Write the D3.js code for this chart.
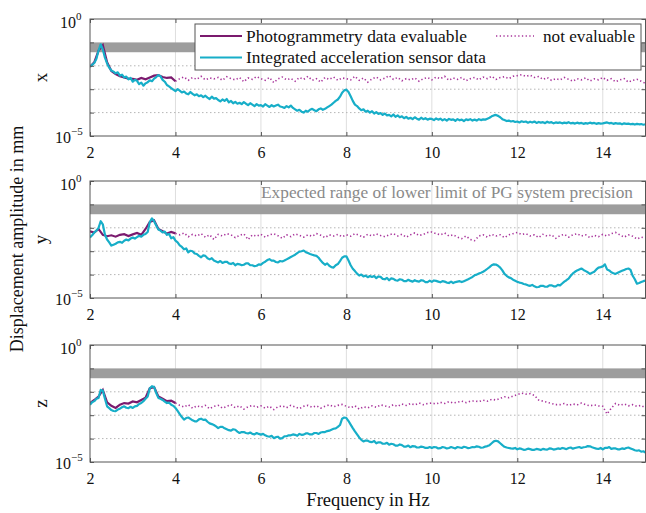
<!DOCTYPE html>
<html>
<head>
<meta charset="utf-8">
<script src="https://cdn.jsdelivr.net/npm/d3@7/dist/d3.min.js"></script>
<style>
  body { margin: 0; background: #fff; }
  text { font-family: "Liberation Serif", "Times New Roman", serif; }
</style>
</head>
<body>
<svg id="chart" width="646" height="513"></svg>
<script>
'use strict';

// values are log10 of displacement amplitude in mm
// acceleration data sampled every 0.05 Hz, photogrammetry every 0.1 Hz
const freqAcc = d3.range(40, 301).map(d => d / 20);   // 2.00 .. 15.00
const freqPG  = d3.range(20, 41).map(d => d / 10);    // 2.0 .. 4.0 (evaluable)
const freqNE  = d3.range(40, 151).map(d => d / 10);   // 4.0 .. 15.0 (not evaluable)

const accX = [
  -2.04,-1.96,-1.88,-1.70,-1.35,-1.08,-1.30,-1.65,-1.90,-2.08,-2.20,-2.25,-2.32,-2.28,-2.42,-2.38,-2.50,-2.46,-2.58,-2.52,
  -2.68,-2.60,-2.64,-2.78,-2.72,-2.85,-2.75,-2.70,-2.62,-2.66,-2.55,-2.48,-2.40,-2.45,-2.60,-2.68,-2.82,-2.88,-2.95,-3.02,
  -3.08,-3.00,-3.06,-3.14,-3.10,-3.18,-3.22,-3.12,-3.20,-3.26,-3.22,-3.30,-3.26,-3.34,-3.28,-3.36,-3.42,-3.32,-3.40,-3.38,
  -3.46,-3.52,-3.44,-3.50,-3.42,-3.56,-3.50,-3.60,-3.54,-3.62,-3.58,-3.64,-3.55,-3.62,-3.68,-3.60,-3.66,-3.72,-3.64,-3.70,
  -3.68,-3.74,-3.64,-3.70,-3.76,-3.68,-3.74,-3.70,-3.66,-3.74,-3.76,-3.80,-3.72,-3.78,-3.70,-3.80,-3.86,-3.92,-3.88,-3.96,
  -4.00,-3.92,-3.96,-3.88,-3.84,-3.90,-3.94,-3.86,-3.82,-3.88,-3.84,-3.78,-3.72,-3.66,-3.58,-3.50,-3.44,-3.32,-3.15,-3.05,
  -3.02,-3.12,-3.30,-3.50,-3.66,-3.72,-3.82,-3.90,-3.86,-3.96,-3.92,-4.00,-3.94,-4.04,-3.98,-4.06,-4.02,-4.10,-4.04,-4.12,
  -4.10,-4.16,-4.08,-4.18,-4.12,-4.20,-4.16,-4.24,-4.18,-4.26,-4.22,-4.28,-4.20,-4.26,-4.30,-4.22,-4.28,-4.24,-4.30,-4.26,
  -4.27,-4.32,-4.25,-4.30,-4.26,-4.33,-4.28,-4.34,-4.27,-4.31,-4.29,-4.35,-4.28,-4.33,-4.30,-4.36,-4.29,-4.32,-4.28,-4.34,
  -4.30,-4.34,-4.28,-4.32,-4.29,-4.30,-4.26,-4.22,-4.16,-4.12,-4.10,-4.14,-4.20,-4.28,-4.32,-4.36,-4.34,-4.38,-4.36,-4.40,
  -4.38,-4.42,-4.37,-4.40,-4.38,-4.43,-4.39,-4.42,-4.38,-4.44,-4.40,-4.43,-4.41,-4.45,-4.39,-4.43,-4.41,-4.46,-4.42,-4.44,
  -4.42,-4.46,-4.43,-4.45,-4.41,-4.46,-4.44,-4.47,-4.43,-4.46,-4.44,-4.48,-4.45,-4.47,-4.43,-4.46,-4.44,-4.48,-4.45,-4.47,
  -4.46,-4.44,-4.42,-4.46,-4.44,-4.48,-4.45,-4.47,-4.46,-4.50,-4.46,-4.48,-4.47,-4.50,-4.48,-4.51,-4.48,-4.50,-4.49,-4.52,
  -4.50
];
const pgX = [
  -2.04,-1.85,-1.35,-1.12,-1.85,-2.22,-2.35,-2.45,-2.50,-2.55,
  -2.56,-2.60,-2.52,-2.58,-2.50,-2.42,-2.40,-2.48,-2.52,-2.50,
  -2.66
];
const neX = [
  -2.66,-2.55,-2.48,-2.62,-2.50,-2.58,-2.45,-2.60,-2.52,-2.56,
  -2.50,-2.62,-2.47,-2.55,-2.60,-2.50,-2.68,-2.52,-2.58,-2.46,
  -2.55,-2.62,-2.50,-2.72,-2.56,-2.48,-2.60,-2.54,-2.66,-2.50,
  -2.58,-2.45,-2.62,-2.55,-2.70,-2.50,-2.58,-2.48,-2.62,-2.52,
  -2.55,-2.60,-2.45,-2.62,-2.52,-2.70,-2.56,-2.48,-2.60,-2.53,
  -2.42,-2.58,-2.50,-2.64,-2.55,-2.60,-2.52,-2.66,-2.55,-2.50,
  -2.60,-2.48,-2.55,-2.45,-2.62,-2.52,-2.58,-2.50,-2.64,-2.55,
  -2.50,-2.60,-2.48,-2.55,-2.45,-2.58,-2.50,-2.47,-2.55,-2.45,
  -2.42,-2.38,-2.45,-2.40,-2.50,-2.46,-2.58,-2.50,-2.62,-2.55,
  -2.60,-2.50,-2.58,-2.66,-2.55,-2.60,-2.52,-2.65,-2.56,-2.60,
  -2.50,-2.62,-2.55,-2.68,-2.60,-2.55,-2.70,-2.62,-2.58,-2.66,
  -2.75
];

const accY = [
  -2.41,-2.32,-2.20,-2.12,-2.00,-1.72,-1.85,-2.30,-2.50,-2.62,-2.76,-2.72,-2.68,-2.62,-2.60,-2.64,-2.55,-2.50,-2.54,-2.46,
  -2.42,-2.46,-2.40,-2.34,-2.38,-2.30,-2.26,-2.18,-1.75,-1.60,-1.72,-1.90,-2.07,-2.12,-2.20,-2.16,-2.30,-2.26,-2.45,-2.40,
  -2.55,-2.62,-2.75,-2.82,-2.92,-2.88,-3.05,-2.98,-3.00,-3.10,-3.12,-3.20,-3.26,-3.18,-3.20,-3.30,-3.35,-3.30,-3.40,-3.44,
  -3.48,-3.42,-3.50,-3.46,-3.45,-3.52,-3.55,-3.50,-3.60,-3.54,-3.56,-3.60,-3.58,-3.52,-3.52,-3.60,-3.60,-3.64,-3.62,-3.56,
  -3.58,-3.50,-3.45,-3.38,-3.34,-3.40,-3.40,-3.46,-3.48,-3.42,-3.44,-3.40,-3.35,-3.30,-3.25,-3.20,-3.15,-3.08,-3.02,-3.00,
  -2.97,-3.04,-3.08,-3.12,-3.15,-3.18,-3.20,-3.28,-3.40,-3.50,-3.58,-3.52,-3.62,-3.68,-3.70,-3.60,-3.55,-3.42,-3.28,-3.22,
  -3.22,-3.40,-3.60,-3.75,-3.85,-3.96,-4.04,-4.00,-4.08,-4.04,-4.11,-4.06,-4.10,-4.06,-4.15,-4.08,-4.10,-4.18,-4.20,-4.14,
  -4.24,-4.16,-4.18,-4.24,-4.26,-4.20,-4.22,-4.28,-4.28,-4.22,-4.27,-4.30,-4.24,-4.28,-4.30,-4.24,-4.26,-4.32,-4.32,-4.26,
  -4.31,-4.25,-4.27,-4.30,-4.33,-4.28,-4.30,-4.34,-4.36,-4.30,-4.36,-4.32,-4.30,-4.28,-4.32,-4.28,-4.24,-4.20,-4.15,-4.10,
  -4.03,-4.00,-3.95,-3.92,-3.88,-3.82,-3.75,-3.68,-3.60,-3.56,-3.57,-3.62,-3.70,-3.82,-3.97,-4.05,-4.12,-4.15,-4.22,-4.26,
  -4.31,-4.34,-4.36,-4.40,-4.42,-4.46,-4.48,-4.44,-4.50,-4.54,-4.53,-4.48,-4.48,-4.52,-4.52,-4.46,-4.46,-4.50,-4.50,-4.44,
  -4.46,-4.38,-4.30,-4.24,-4.17,-4.05,-3.95,-3.88,-3.82,-3.78,-3.74,-3.80,-3.85,-3.90,-3.97,-3.92,-3.88,-3.78,-3.70,-3.68,
  -3.65,-3.56,-3.78,-3.82,-3.90,-3.94,-3.97,-3.92,-3.88,-3.84,-3.80,-3.76,-3.74,-3.80,-4.05,-4.20,-4.39,-4.36,-4.32,-4.28,
  -4.25
];
const pgY = [
  -2.15,-2.20,-2.05,-2.30,-2.36,-2.32,-2.38,-2.30,-2.27,-2.35,
  -2.28,-2.22,-2.30,-2.05,-1.75,-1.68,-2.05,-2.15,-2.25,-2.18,
  -2.24
];
const neY = [
  -2.24,-2.30,-2.22,-2.38,-2.28,-2.35,-2.25,-2.40,-2.30,-2.50,
  -2.28,-2.35,-2.25,-2.30,-2.42,-2.32,-2.26,-2.50,-2.30,-2.36,
  -2.28,-2.40,-2.30,-2.25,-2.34,-2.45,-2.30,-2.38,-2.26,-2.32,
  -2.40,-2.30,-2.36,-2.25,-2.32,-2.42,-2.30,-2.35,-2.28,-2.38,
  -2.30,-2.36,-2.25,-2.32,-2.40,-2.28,-2.35,-2.26,-2.33,-2.38,
  -2.30,-2.25,-2.35,-2.28,-2.40,-2.30,-2.22,-2.33,-2.28,-2.20,
  -2.18,-2.25,-2.30,-2.22,-2.35,-2.30,-2.40,-2.46,-2.35,-2.50,
  -2.55,-2.35,-2.30,-2.40,-2.28,-2.35,-2.30,-2.42,-2.30,-2.25,
  -2.20,-2.28,-2.25,-2.35,-2.30,-2.42,-2.28,-2.36,-2.30,-2.45,
  -2.33,-2.28,-2.40,-2.30,-2.25,-2.35,-2.30,-2.42,-2.32,-2.38,
  -2.28,-2.35,-2.25,-2.20,-2.30,-2.40,-2.30,-2.36,-2.48,-2.40,
  -2.45
];

const accZ = [
  -2.55,-2.45,-2.40,-2.30,-2.26,-1.92,-1.95,-2.30,-2.62,-2.70,-2.78,-2.82,-2.83,-2.76,-2.72,-2.66,-2.62,-2.68,-2.70,-2.64,
  -2.69,-2.62,-2.60,-2.52,-2.48,-2.40,-2.30,-2.20,-1.85,-1.76,-1.80,-2.05,-2.26,-2.30,-2.35,-2.42,-2.48,-2.46,-2.55,-2.60,
  -2.69,-2.82,-2.95,-3.08,-3.19,-3.12,-3.10,-3.16,-3.22,-3.26,-3.26,-3.18,-3.15,-3.20,-3.19,-3.28,-3.35,-3.38,-3.42,-3.48,
  -3.55,-3.50,-3.50,-3.56,-3.60,-3.64,-3.66,-3.60,-3.62,-3.70,-3.76,-3.72,-3.72,-3.76,-3.78,-3.74,-3.80,-3.82,-3.76,-3.80,
  -3.83,-3.80,-3.86,-3.90,-3.92,-3.88,-3.98,-3.94,-3.92,-4.00,-3.98,-3.90,-3.90,-3.86,-3.86,-3.82,-3.84,-3.88,-3.80,-3.84,
  -3.83,-3.78,-3.78,-3.82,-3.82,-3.76,-3.76,-3.80,-3.74,-3.72,-3.72,-3.68,-3.66,-3.62,-3.58,-3.56,-3.50,-3.42,-3.15,-3.10,
  -3.12,-3.25,-3.40,-3.55,-3.69,-3.82,-3.95,-4.05,-4.12,-4.08,-4.09,-4.14,-4.15,-4.10,-4.20,-4.16,-4.16,-4.22,-4.22,-4.18,
  -4.26,-4.22,-4.24,-4.30,-4.30,-4.25,-4.28,-4.34,-4.34,-4.30,-4.37,-4.32,-4.33,-4.38,-4.38,-4.34,-4.36,-4.40,-4.40,-4.36,
  -4.40,-4.36,-4.37,-4.42,-4.41,-4.36,-4.38,-4.42,-4.40,-4.36,-4.39,-4.42,-4.36,-4.38,-4.40,-4.35,-4.37,-4.41,-4.39,-4.36,
  -4.37,-4.33,-4.35,-4.39,-4.38,-4.34,-4.32,-4.28,-4.20,-4.12,-4.09,-4.12,-4.20,-4.28,-4.35,-4.38,-4.40,-4.42,-4.43,-4.40,
  -4.46,-4.42,-4.44,-4.48,-4.47,-4.43,-4.45,-4.48,-4.48,-4.44,-4.46,-4.49,-4.44,-4.46,-4.47,-4.42,-4.43,-4.47,-4.45,-4.42,
  -4.44,-4.40,-4.42,-4.45,-4.40,-4.38,-4.43,-4.40,-4.38,-4.36,-4.40,-4.37,-4.36,-4.32,-4.33,-4.37,-4.40,-4.43,-4.44,-4.40,
  -4.46,-4.40,-4.40,-4.36,-4.44,-4.42,-4.42,-4.46,-4.46,-4.42,-4.44,-4.40,-4.38,-4.42,-4.46,-4.50,-4.52,-4.50,-4.56,-4.54,
  -4.60
];
const pgZ = [
  -2.48,-2.35,-2.20,-1.92,-2.45,-2.60,-2.69,-2.55,-2.48,-2.50,
  -2.41,-2.45,-2.35,-2.25,-1.85,-1.80,-2.20,-2.30,-2.40,-2.38,
  -2.48
];
const neZ = [
  -2.48,-2.58,-2.65,-2.55,-2.70,-2.60,-2.66,-2.58,-2.72,-2.62,
  -2.58,-2.70,-2.62,-2.55,-2.68,-2.60,-2.74,-2.64,-2.58,-2.66,
  -2.60,-2.70,-2.62,-2.76,-2.64,-2.60,-2.68,-2.58,-2.65,-2.72,
  -2.62,-2.58,-2.66,-2.60,-2.70,-2.62,-2.56,-2.64,-2.58,-2.54,
  -2.62,-2.68,-2.60,-2.74,-2.64,-2.69,-2.60,-2.66,-2.56,-2.60,
  -2.65,-2.55,-2.62,-2.52,-2.58,-2.50,-2.56,-2.48,-2.55,-2.50,
  -2.48,-2.52,-2.45,-2.50,-2.42,-2.48,-2.44,-2.40,-2.46,-2.40,
  -2.39,-2.42,-2.36,-2.40,-2.32,-2.35,-2.28,-2.21,-2.25,-2.18,
  -2.12,-2.06,-2.10,-2.08,-2.15,-2.35,-2.40,-2.45,-2.50,-2.55,
  -2.55,-2.50,-2.58,-2.52,-2.56,-2.48,-2.55,-2.60,-2.56,-2.60,
  -2.62,-2.95,-2.70,-2.50,-2.58,-2.52,-2.60,-2.55,-2.62,-2.58,
  -2.69
];

// expected range of lower limit of PG system precision (mm)
const bandRange = [0.038, 0.1];

const xTicks = [2, 4, 6, 8, 10, 12, 14];
const yTicks = [1e-5, 1e-4, 1e-3, 1e-2, 1e-1, 1];
const yLabels = [{v: 1, exp: "0"}, {v: 1e-5, exp: "\u22125"}];

const legendItems = ["Photogrammetry data evaluable", "Integrated acceleration sensor data", "not evaluable"];

const colAcc = "#17aec8";
const colPG  = "#7b1a6e";
const colNE  = "#a8349b";

const panels = [
  {name: "x", top: 19,  acc: accX, pg: pgX, ne: neX},
  {name: "y", top: 181, acc: accY, pg: pgY, ne: neY},
  {name: "z", top: 345, acc: accZ, pg: pgZ, ne: neZ}
];

const svg = d3.select("#chart");
const left = 90, right = 645.5, ph = 117;

const x = d3.scaleLinear().domain([2, 15]).range([left, right]);

panels.forEach(function(p, i) {
  const g = svg.append("g").attr("transform", "translate(0," + p.top + ")");
  const y = d3.scaleLog().domain([1e-5, 1]).range([ph, 0]);

  g.append("defs").append("clipPath").attr("id", "clip" + i)
    .append("rect").attr("x", left).attr("y", 0).attr("width", right - left).attr("height", ph);

  // grid
  g.selectAll(".vgrid").data(xTicks.slice(1)).join("line")
    .attr("x1", d => x(d)).attr("x2", d => x(d))
    .attr("y1", 0).attr("y2", ph)
    .attr("stroke", "#dedede").attr("stroke-width", 1);
  g.selectAll(".hgrid").data(yTicks.slice(1, 4)).join("line")
    .attr("x1", left).attr("x2", right)
    .attr("y1", d => y(d)).attr("y2", d => y(d))
    .attr("stroke", "#b5b5b5").attr("stroke-width", 1).attr("stroke-dasharray", "1.5,2.5");

  // band
  g.append("rect")
    .attr("x", left).attr("width", right - left)
    .attr("y", y(bandRange[1])).attr("height", y(bandRange[0]) - y(bandRange[1]))
    .attr("fill", "#9d9d9d");

  const plot = g.append("g").attr("clip-path", "url(#clip" + i + ")");

  const line = d3.line()
    .x(d => x(d[0]))
    .y(d => y(Math.pow(10, d[1])));

  plot.append("path")
    .datum(freqNE.map((f, k) => [f, p.ne[k]]))
    .attr("fill", "none").attr("stroke", colNE).attr("stroke-width", 1.6)
    .attr("stroke-dasharray", "1.3,2.4")
    .attr("d", line);

  plot.append("path")
    .datum(freqPG.map((f, k) => [f, p.pg[k]]))
    .attr("fill", "none").attr("stroke", colPG).attr("stroke-width", 2.2)
    .attr("d", line);

  plot.append("path")
    .datum(freqAcc.map((f, k) => [f, p.acc[k]]))
    .attr("fill", "none").attr("stroke", colAcc).attr("stroke-width", 2.2)
    .attr("stroke-linejoin", "round")
    .attr("d", line);

  // box
  g.append("rect")
    .attr("x", left).attr("y", 0).attr("width", right - left).attr("height", ph)
    .attr("fill", "none").attr("stroke", "#555").attr("stroke-width", 1);

  // ticks (inward)
  const axB = g.append("g").attr("transform", "translate(0," + ph + ")")
    .call(d3.axisBottom(x).tickValues(xTicks).tickSize(-4).tickPadding(11).tickFormat(d3.format("d")));
  const axT = g.append("g")
    .call(d3.axisTop(x).tickValues(xTicks).tickSize(-4).tickFormat(""));
  const axL = g.append("g").attr("transform", "translate(" + left + ",0)")
    .call(d3.axisLeft(y).tickValues(yTicks).tickSize(-4).tickFormat(""));
  const axR = g.append("g").attr("transform", "translate(" + right + ",0)")
    .call(d3.axisRight(y).tickValues(yTicks).tickSize(-4).tickFormat(""));
  [axB, axT, axL, axR].forEach(function(a) {
    a.select(".domain").remove();
    a.selectAll(".tick line").attr("stroke", "#555");
  });
  axB.selectAll("text")
    .attr("font-family", "Liberation Serif, serif").attr("font-size", 16).attr("fill", "#111");

  // y labels 10^0, 10^-5
  yLabels.forEach(function(l) {
    const t = g.append("text")
      .attr("x", l.exp === "0" ? 60 : 55)
      .attr("y", y(l.v) + (l.exp === "0" ? 9 : 7))
      .attr("font-size", 16).attr("fill", "#111");
    t.append("tspan").text("10");
    t.append("tspan").attr("dy", -8).attr("font-size", 11).text(l.exp);
  });

  // panel name
  g.append("text")
    .attr("transform", "translate(47," + (ph / 2) + ") rotate(-90)")
    .attr("text-anchor", "middle")
    .attr("font-size", 19).attr("fill", "#111")
    .text(p.name);
});

// text in the y panel
svg.append("text")
  .attr("x", 261).attr("y", 198)
  .attr("font-size", 16.5).attr("fill", "#8a8a8a")
  .attr("textLength", 372).attr("lengthAdjust", "spacingAndGlyphs")
  .text("Expected range of lower limit of PG system precision");

// legend
const lg = svg.append("g");
lg.append("rect")
  .attr("x", 195).attr("y", 24).attr("width", 446).attr("height", 46)
  .attr("fill", "#fff").attr("stroke", "#555").attr("stroke-width", 1);
lg.append("line").attr("x1", 200).attr("x2", 242).attr("y1", 36).attr("y2", 36)
  .attr("stroke", colPG).attr("stroke-width", 2.2);
lg.append("line").attr("x1", 200).attr("x2", 242).attr("y1", 57.5).attr("y2", 57.5)
  .attr("stroke", colAcc).attr("stroke-width", 2.2);
lg.append("line").attr("x1", 496).attr("x2", 534).attr("y1", 36).attr("y2", 36)
  .attr("stroke", colNE).attr("stroke-width", 1.6).attr("stroke-dasharray", "1.3,2.4");
const legendText = [
  {x: 246, y: 42, w: 221},
  {x: 246, y: 63, w: 240},
  {x: 543, y: 42, w: 92}
];
legendText.forEach(function(t, k) {
  lg.append("text").attr("x", t.x).attr("y", t.y)
    .attr("font-size", 17.5).attr("fill", "#111")
    .attr("textLength", t.w).attr("lengthAdjust", "spacingAndGlyphs")
    .text(legendItems[k]);
});

// axis titles
svg.append("text")
  .attr("x", 368).attr("y", 506)
  .attr("text-anchor", "middle").attr("font-size", 18.5).attr("fill", "#111")
  .text("Frequency in Hz");
svg.append("text")
  .attr("transform", "translate(23,239) rotate(-90)")
  .attr("text-anchor", "middle").attr("font-size", 18).attr("fill", "#111")
  .text("Displacement amplitude in mm");
</script>
</body>
</html>
